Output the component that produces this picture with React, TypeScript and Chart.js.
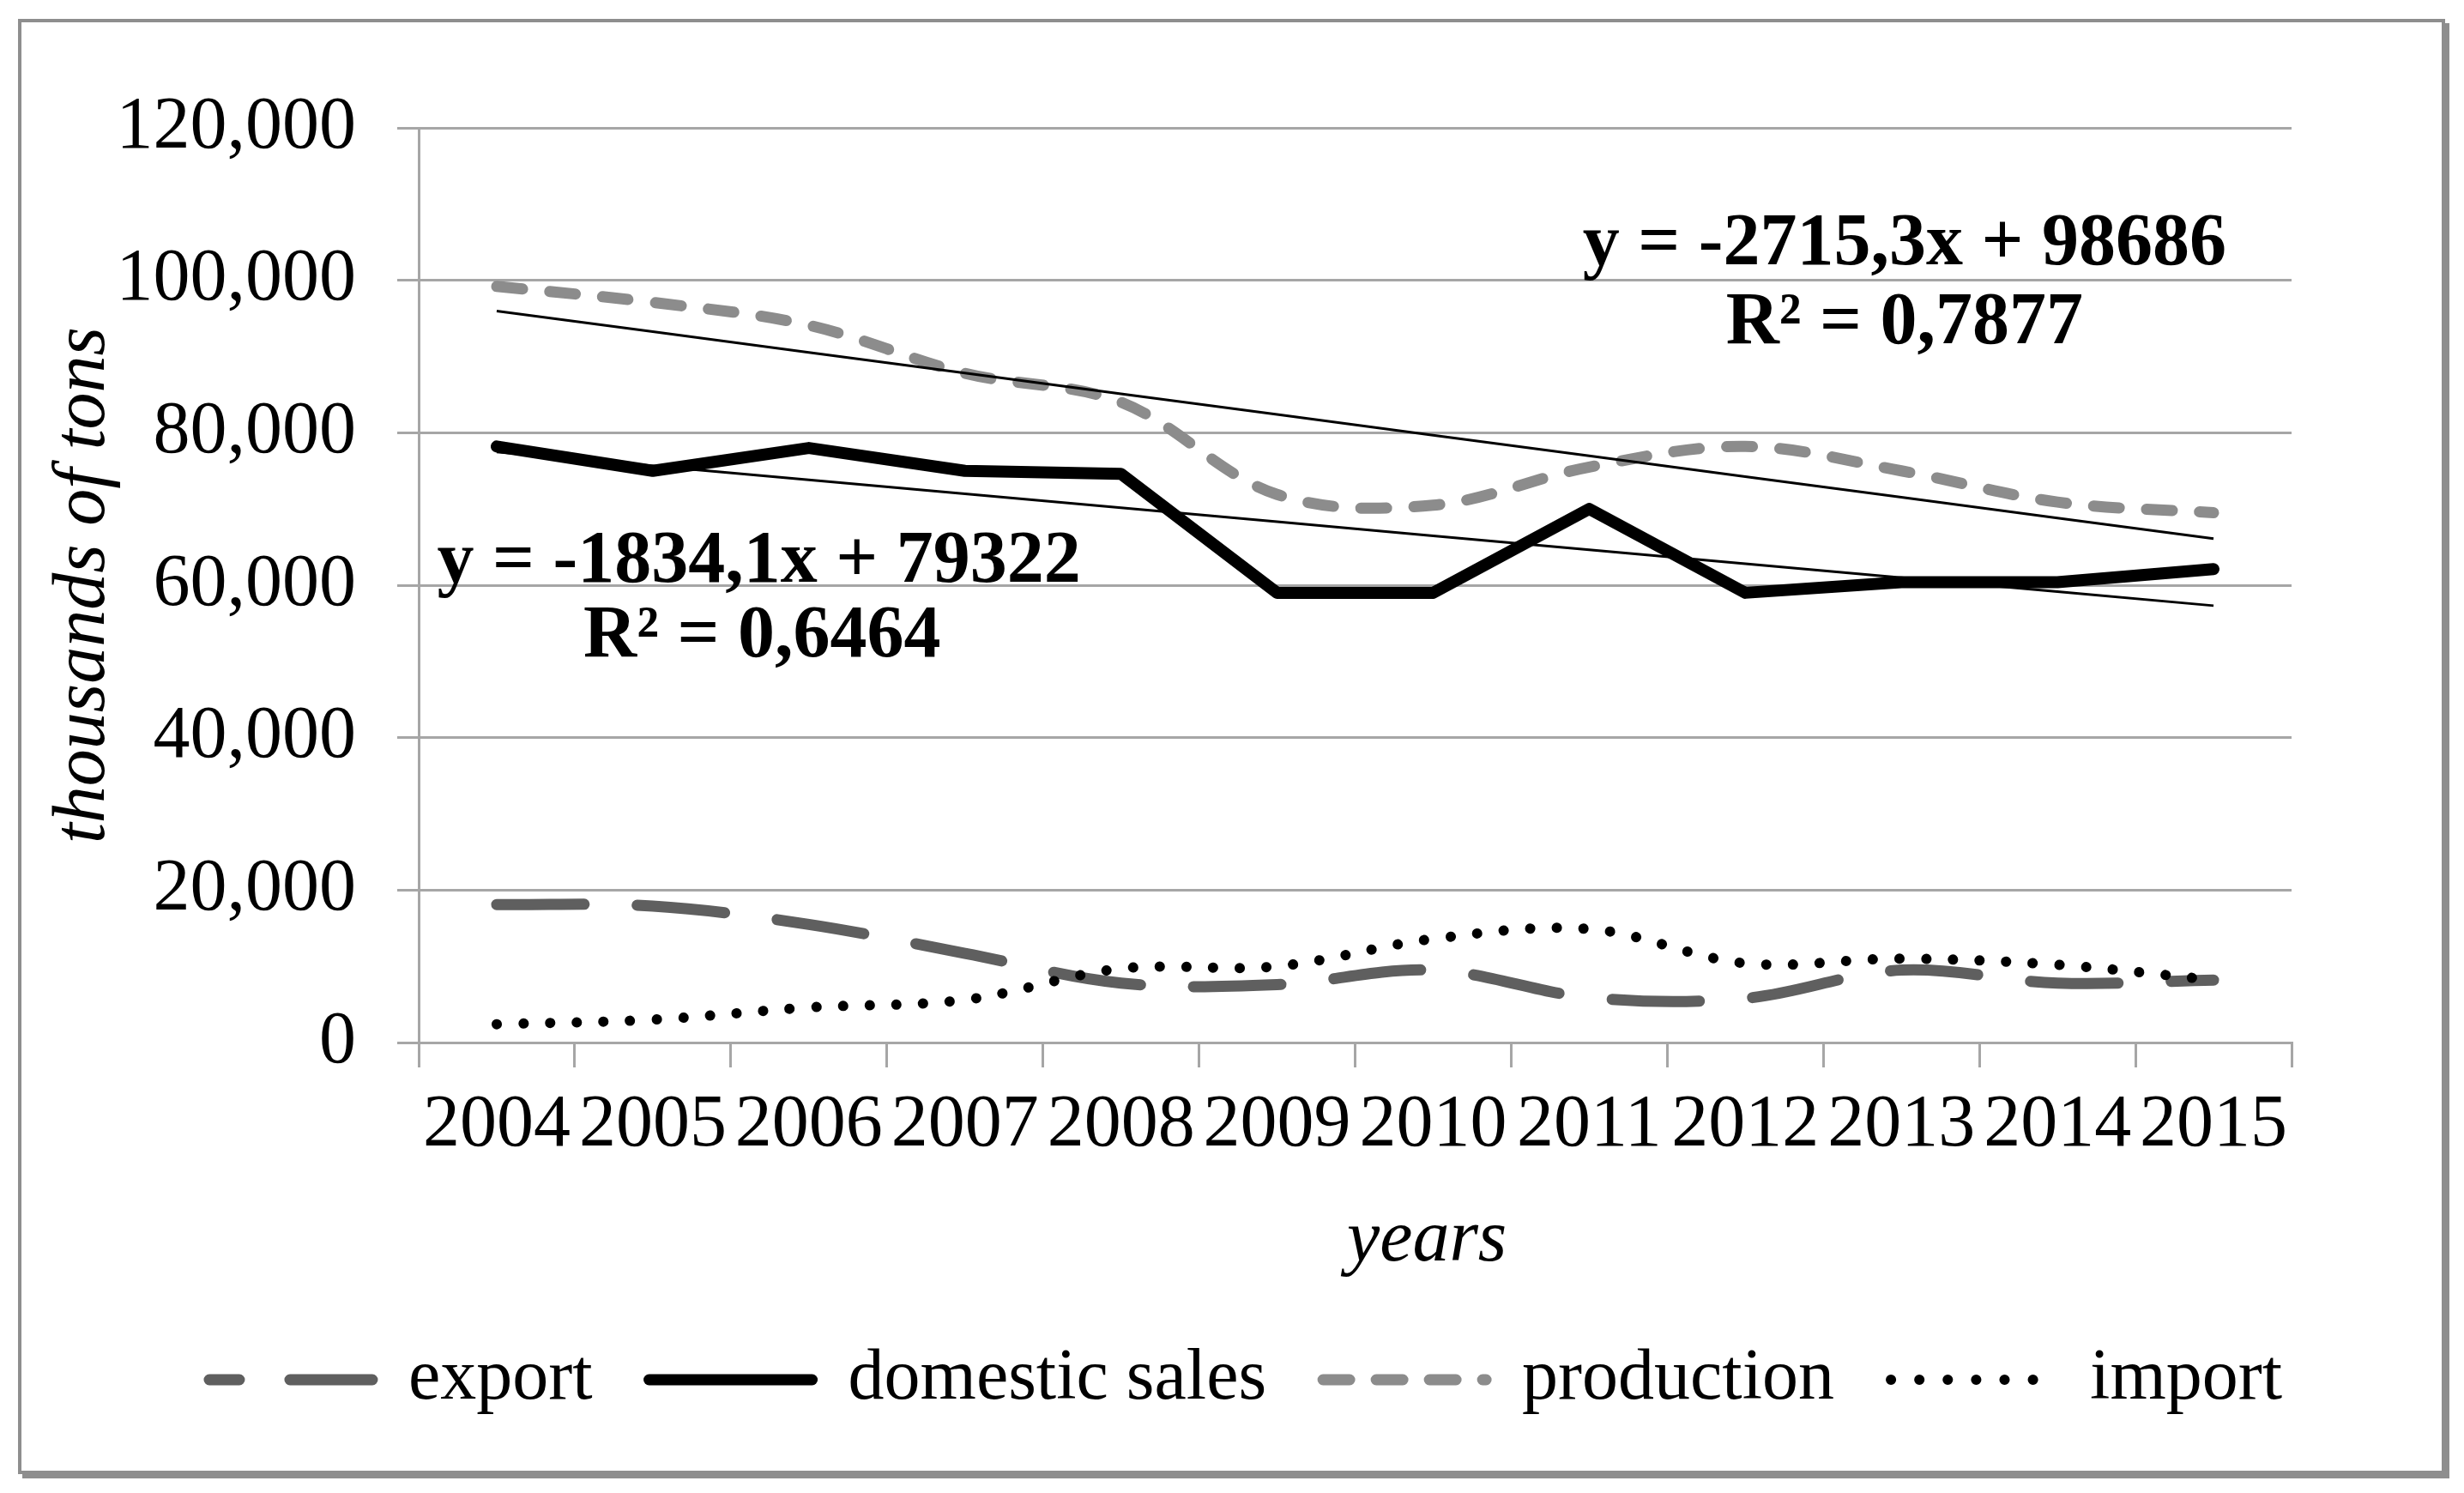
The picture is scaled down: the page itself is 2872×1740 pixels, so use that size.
import React, { useEffect, useRef } from 'react';
import { Chart, registerables } from 'chart.js';

Chart.register(...registerables);

// ---- data ----
const years = ['2004', '2005', '2006', '2007', '2008', '2009', '2010', '2011', '2012', '2013', '2014', '2015'];
const exportValues = [18100, 17900, 15500, 11700, 7800, 7600, 9500, 5900, 5800, 9500, 7800, 8200];
const domesticSales = [78200, 75000, 78000, 75000, 74600, 59000, 59000, 70000, 59000, 60400, 60400, 62100];
const production = [99200, 97100, 94100, 87800, 84000, 71900, 70500, 75500, 78200, 75000, 70900, 69500];
const importValues = [2400, 3000, 4600, 5600, 9700, 10000, 13600, 14900, 10400, 11000, 10200, 8200];
// linear trend lines as printed on the chart (y = -2715,3x + 98686 ; y = -1834,1x + 79322)
const productionTrend = [95971, 93255, 90540, 87825, 85110, 82394, 79679, 76964, 74248, 71533, 68818, 66102];
const domesticTrend = [77488, 75654, 73820, 71986, 70152, 68317, 66483, 64649, 62815, 60981, 59147, 57313];
const yMin = 0;
const yMax = 120000;
const yStep = 20000;
const equationTexts = ['y = -2715,3x + 98686', 'R\u00B2 = 0,7877', 'y = -1834,1x + 79322', 'R\u00B2 = 0,6464'];
// anchors (category index, value) for the equation labels
const equationAnchorX = [9.02, 9.02, 1.68, 1.7];
const equationAnchorY = [102100, 91740, 60450, 50660];
const xTitle = 'years';
const xTitleAnchor = 5.96;

const FONT = '"Liberation Serif", "Times New Roman", serif';
const GRID = '#a6a6a6';

const legendStyles = [
  { color: '#5f5f5f', width: 13, dash: [108, 59], offset: 73 },
  { color: '#000000', width: 13, dash: [], offset: 0 },
  { color: '#8c8c8c', width: 13, dash: [31, 31], offset: 0 },
  { color: '#000000', width: 12, dash: [0.1, 33], offset: 0 },
];

const textPlugin = {
  id: 'equations',
  afterDatasetsDraw(chart: any) {
    const { ctx, chartArea } = chart;
    const xs = chart.scales.x;
    const ys = chart.scales.y;
    ctx.save();
    ctx.font = 'bold 86px ' + FONT;
    ctx.fillStyle = '#000';
    ctx.textAlign = 'center';
    ctx.textBaseline = 'alphabetic';
    equationTexts.forEach((t, i) => {
      ctx.fillText(t, xs.getPixelForValue(equationAnchorX[i]), ys.getPixelForValue(equationAnchorY[i]));
    });
    ctx.font = 'italic 86px ' + FONT;
    ctx.fillText(xTitle, xs.getPixelForValue(xTitleAnchor), chartArea.bottom + 254);
    ctx.restore();
  },
};

const legendHeightPlugin = {
  id: 'legendHeight',
  beforeLayout(chart: any) {
    const lg = chart.legend;
    if (lg && !lg.__patched) {
      const orig = lg.fit.bind(lg);
      lg.fit = function () {
        orig();
        this.height = 240;
      };
      lg.__patched = true;
    }
  },
};

export default function App() {
  const ref = useRef<HTMLCanvasElement>(null);

  useEffect(() => {
    const canvas = ref.current;
    if (!canvas) return;
    const chart = new Chart(canvas, {
      type: 'line',
      data: {
        labels: years,
        datasets: [
          {
            label: 'export',
            data: exportValues,
            borderColor: '#5f5f5f',
            borderWidth: 13,
            borderDash: [102, 62],
            borderCapStyle: 'round',
            tension: 0.35,
            pointRadius: 0,
            fill: false,
            order: 3,
          },
          {
            label: 'domestic sales',
            data: domesticSales,
            borderColor: '#000000',
            borderWidth: 14,
            borderJoinStyle: 'round',
            borderCapStyle: 'round',
            tension: 0,
            pointRadius: 0,
            fill: false,
            order: 2,
          },
          {
            label: 'production',
            data: production,
            borderColor: '#8c8c8c',
            borderWidth: 13,
            borderDash: [30, 32],
            borderCapStyle: 'round',
            tension: 0.35,
            pointRadius: 0,
            fill: false,
            order: 4,
          },
          {
            label: 'import',
            data: importValues,
            borderColor: '#000000',
            borderWidth: 12,
            borderDash: [0.1, 31],
            borderCapStyle: 'round',
            tension: 0.35,
            pointRadius: 0,
            fill: false,
            order: 0,
          },
          {
            label: 'Linear (production)',
            data: productionTrend,
            borderColor: '#000000',
            borderWidth: 3,
            tension: 0,
            pointRadius: 0,
            fill: false,
            order: 1,
          },
          {
            label: 'Linear (domestic sales)',
            data: domesticTrend,
            borderColor: '#000000',
            borderWidth: 3,
            tension: 0,
            pointRadius: 0,
            fill: false,
            order: 1,
          },
        ],
      },
      options: {
        responsive: false,
        animation: false,
        events: [],
        layout: { padding: { left: 32, top: 149, right: 0, bottom: 0 } },
        scales: {
          x: {
            type: 'category',
            offset: true,
            grid: {
              display: true,
              drawOnChartArea: false,
              drawTicks: true,
              tickLength: 29,
              offset: true,
              color: GRID,
              lineWidth: 3,
            },
            border: { display: true, color: GRID, width: 3 },
            ticks: {
              autoSkip: false,
              maxRotation: 0,
              minRotation: 0,
              padding: 17,
              color: '#000',
              font: { family: FONT, size: 86 },
            },
            title: { display: false },
            afterFit: (s: any) => {
              s.height = 285;
            },
          },
          y: {
            type: 'linear',
            position: 'left',
            min: yMin,
            max: yMax,
            grid: {
              color: GRID,
              lineWidth: 3,
              drawTicks: true,
              tickLength: 25,
            },
            border: { display: true, color: GRID, width: 3 },
            ticks: {
              stepSize: yStep,
              padding: 48,
              color: '#000',
              font: { family: FONT, size: 86 },
              callback: (v: any) => Number(v).toLocaleString('en-US'),
            },
            title: {
              display: true,
              text: 'thousands of tons',
              color: '#000',
              font: { family: FONT, size: 86, style: 'italic', lineHeight: 0.9 },
              padding: { top: 28, bottom: 0 },
            },
            afterFit: (s: any) => {
              s.width = 456;
            },
          },
          y2: {
            type: 'linear',
            position: 'right',
            display: true,
            grid: { display: false, drawTicks: false },
            border: { display: false },
            ticks: { display: false },
            afterFit: (s: any) => {
              s.width = 201;
            },
          },
        },
        plugins: {
          tooltip: { enabled: false },
          title: { display: false },
          legend: {
            display: true,
            position: 'bottom',
            labels: {
              usePointStyle: true,
              pointStyleWidth: 190,
              padding: 66,
              color: '#000',
              font: { family: FONT, size: 84 },
              generateLabels: (ch: any) =>
                ch.data.datasets.slice(0, 4).map((ds: any, i: number) => ({
                  text: ds.label,
                  datasetIndex: i,
                  hidden: false,
                  fillStyle: legendStyles[i].color,
                  strokeStyle: legendStyles[i].color,
                  lineWidth: legendStyles[i].width,
                  lineDash: legendStyles[i].dash,
                  lineDashOffset: legendStyles[i].offset,
                  lineCap: 'round',
                  lineJoin: 'round',
                  pointStyle: 'line',
                  fontColor: '#000',
                })),
            },
          },
        },
      },
      plugins: [textPlugin, legendHeightPlugin],
    } as any);
    return () => chart.destroy();
  }, []);

  return (
    <div style={{ position: 'absolute', left: 0, top: 0, width: 2872, height: 1740, background: '#ffffff' }}>
      <div
        style={{
          position: 'absolute',
          left: 21,
          top: 22,
          width: 2829,
          height: 1696,
          boxSizing: 'border-box',
          border: '4px solid #8e8e8e',
          boxShadow: '5px 5px 0 #8e8e8e',
        }}
      />
      <canvas
        ref={ref}
        width={2872}
        height={1740}
        style={{ position: 'absolute', left: 0, top: 0, width: 2872, height: 1740 }}
      />
    </div>
  );
}
